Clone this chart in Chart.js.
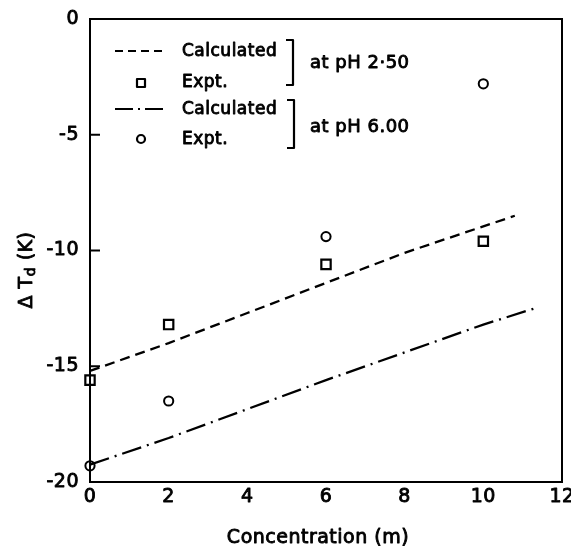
<!DOCTYPE html>
<html>
<head>
<meta charset="utf-8">
<script src="https://cdn.jsdelivr.net/npm/chart.js@4"></script>
<style>
  html, body { margin: 0; padding: 0; background: #fff; }
  #wrap { width: 571px; height: 548px; }
</style>
</head>
<body>
<div id="wrap"><canvas id="chart" width="571" height="548"></canvas></div>
<script>
// Measured points (concentration in m, delta Td in K)
const exptConc = [0, 2, 6, 10];
const exptPH250 = [-15.6, -13.2, -10.6, -9.6];
const exptPH600 = [-19.3, -16.5, -9.4, -2.8];

// Calculated curves
const calcConc250 = [0, 2, 4, 6, 8, 10.8];
const calcPH250 = [-15.2, -14.0, -12.7, -11.4, -10.1, -8.5];
const calcConc600 = [0, 2, 4, 6, 8, 10, 11.4];
const calcPH600 = [-19.25, -18.1, -16.85, -15.6, -14.4, -13.2, -12.45];

const xTicks = [0, 2, 4, 6, 8, 10, 12];
const yTicks = [0, -5, -10, -15, -20];

const FONT = '"DejaVu Sans", sans-serif';

function toPoints(xs, ys) {
    return xs.map((x, i) => ({ x: x, y: ys[i] }));
}

// heavier text, closer to the scanned lettering
function text(ctx, str, x, y) {
    ctx.fillText(str, x, y);
    ctx.strokeText(str, x, y);
}

// Box round the plot, inward ticks, tick labels, titles and the bracketed key
const decorations = {
    id: 'decorations',
    afterDraw(chart) {
        const ctx = chart.ctx;
        const a = chart.chartArea;
        const xScale = chart.scales.x;
        const yScale = chart.scales.y;
        ctx.save();
        ctx.strokeStyle = '#000';
        ctx.fillStyle = '#000';
        ctx.lineWidth = 2;
        ctx.setLineDash([]);
        ctx.strokeRect(a.left, a.top, a.right - a.left, a.bottom - a.top);

        yTicks.forEach(v => {
            const py = yScale.getPixelForValue(v);
            ctx.beginPath();
            ctx.moveTo(a.left, py);
            ctx.lineTo(a.left + 10, py);
            ctx.stroke();
        });

        ctx.lineWidth = 0.9;
        ctx.lineJoin = 'round';
        ctx.font = '19px ' + FONT;
        ctx.letterSpacing = '0.5px';
        ctx.textBaseline = 'middle';
        ctx.textAlign = 'right';
        yTicks.forEach(v => {
            text(ctx, String(v), a.left - 11, yScale.getPixelForValue(v));
        });
        ctx.textAlign = 'center';
        xTicks.forEach(v => {
            text(ctx, String(v), xScale.getPixelForValue(v), a.bottom + 15);
        });

        // x title
        ctx.font = '19px ' + FONT;
        ctx.letterSpacing = '0.5px';
        ctx.textAlign = 'center';
        text(ctx, 'Concentration (m)', 318, 538);

        // y title with subscript
        ctx.save();
        ctx.translate(27, 270);
        ctx.rotate(-Math.PI / 2);
        ctx.letterSpacing = '0.5px';
        ctx.textAlign = 'left';
        const big = '19px ' + FONT;
        const small = '14px ' + FONT;
        const parts = [['\u0394 T', big, 0], ['d', small, 4], [' (K)', big, 0]];
        let total = 0;
        parts.forEach(p => { ctx.font = p[1]; total += ctx.measureText(p[0]).width; });
        let px = -total / 2;
        parts.forEach(p => {
            ctx.font = p[1];
            text(ctx, p[0], px, p[2]);
            px += ctx.measureText(p[0]).width;
        });
        ctx.restore();

        // key
        ctx.lineWidth = 2.2;
        ctx.setLineDash([8, 5]);
        ctx.beginPath(); ctx.moveTo(115, 51); ctx.lineTo(163, 51); ctx.stroke();
        ctx.setLineDash([18, 5, 2, 5]);
        ctx.beginPath(); ctx.moveTo(115, 109); ctx.lineTo(163, 109); ctx.stroke();
        ctx.setLineDash([]);
        ctx.strokeRect(137, 79, 8, 8);
        ctx.beginPath(); ctx.arc(141, 139, 4, 0, Math.PI * 2); ctx.stroke();

        // brackets
        ctx.beginPath();
        ctx.moveTo(286, 40); ctx.lineTo(293, 40); ctx.lineTo(293, 85); ctx.lineTo(286, 85);
        ctx.moveTo(287, 100); ctx.lineTo(294, 100); ctx.lineTo(294, 148); ctx.lineTo(287, 148);
        ctx.stroke();

        ctx.lineWidth = 0.9;
        ctx.font = '17px ' + FONT;
        ctx.letterSpacing = '0.5px';
        ctx.textAlign = 'left';
        ctx.textBaseline = 'middle';
        text(ctx, 'Calculated', 182, 52);
        text(ctx, 'Expt.', 182, 83);
        text(ctx, 'Calculated', 182, 110);
        text(ctx, 'Expt.', 182, 140);

        ctx.font = '18px ' + FONT;
        text(ctx, 'at pH 2\u00b750', 310, 63);
        text(ctx, 'at pH 6.00', 310, 127);
        ctx.restore();
    }
};

new Chart(document.getElementById('chart'), {
    type: 'scatter',
    data: {
        datasets: [
            {
                label: 'Calculated pH 2.50',
                data: toPoints(calcConc250, calcPH250),
                showLine: true,
                borderColor: '#000',
                borderWidth: 2.3,
                borderDash: [10, 6],
                pointRadius: 0,
                fill: false,
                clip: false
            },
            {
                label: 'Calculated pH 6.00',
                data: toPoints(calcConc600, calcPH600),
                showLine: true,
                borderColor: '#000',
                borderWidth: 2.3,
                borderDash: [20, 6, 2, 6],
                pointRadius: 0,
                fill: false,
                clip: false
            },
            {
                label: 'Expt. pH 2.50',
                data: toPoints(exptConc, exptPH250),
                pointStyle: 'rect',
                pointRadius: 6.6,
                borderColor: '#000',
                backgroundColor: '#fff',
                pointBorderWidth: 2.2,
                clip: false
            },
            {
                label: 'Expt. pH 6.00',
                data: toPoints(exptConc, exptPH600),
                pointStyle: 'circle',
                pointRadius: 4.6,
                borderColor: '#000',
                backgroundColor: '#fff',
                pointBorderWidth: 2,
                clip: false
            }
        ]
    },
    options: {
        responsive: false,
        animation: false,
        events: [],
        layout: {
            padding: { top: 19, right: 9, left: 0, bottom: 0 }
        },
        plugins: {
            legend: { display: false },
            tooltip: { enabled: false },
            title: { display: false }
        },
        scales: {
            x: {
                type: 'linear',
                min: 0,
                max: 12,
                afterBuildTicks: scale => {
                    scale.ticks = xTicks.map(v => ({ value: v }));
                },
                afterFit: scale => {
                    scale.height = 66;
                    scale.paddingLeft = 0;
                    scale.paddingRight = 0;
                },
                grid: { display: false, drawTicks: false },
                border: { display: true, color: '#000', width: 2 },
                ticks: { display: false }
            },
            y: {
                type: 'linear',
                min: -20,
                max: 0,
                afterBuildTicks: scale => {
                    scale.ticks = yTicks.map(v => ({ value: v }));
                },
                afterFit: scale => {
                    scale.width = 90;
                    scale.paddingTop = 0;
                    scale.paddingBottom = 0;
                },
                grid: { display: false, drawTicks: false },
                border: { display: true, color: '#000', width: 2 },
                ticks: { display: false }
            }
        }
    },
    plugins: [decorations]
});
</script>
</body>
</html>
